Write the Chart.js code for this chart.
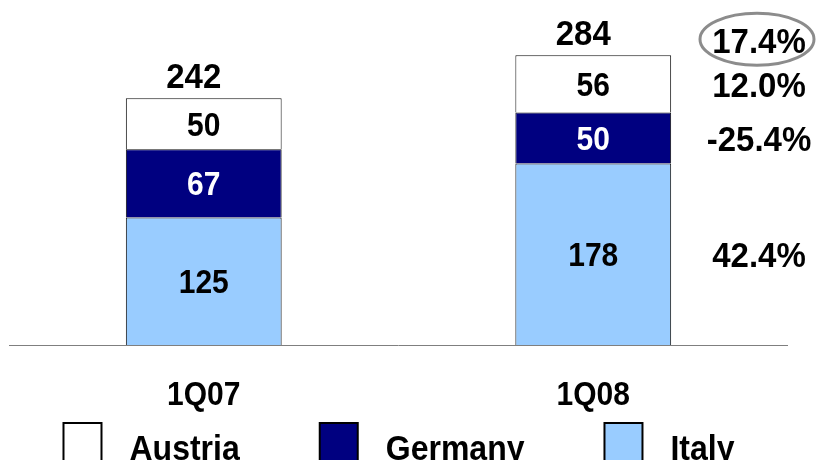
<!DOCTYPE html>
<html>
<head>
<meta charset="utf-8">
<script src="https://cdn.jsdelivr.net/npm/chart.js@4/dist/chart.umd.min.js"></script>
<style>
  html, body { margin: 0; padding: 0; background: #ffffff; }
  canvas { display: block; }
</style>
</head>
<body>
<canvas id="chart" width="817" height="460"></canvas>
<script>
// Quarterly figures by country (stacked: Italy at the bottom, Austria on top)
const categories = ['1Q07', '1Q08'];
const seriesNames = ['Italy', 'Germany', 'Austria'];
const italy = [125, 178];
const germany = [67, 50];
const austria = [50, 56];
// Year-on-year change per country (same order as seriesNames) and for the total
const growth = ['42.4%', '-25.4%', '12.0%'];
const totalGrowth = '17.4%';

const FONT = '"Liberation Sans", Arial, Helvetica, sans-serif';
const fills = ['#99CCFF', '#000080', '#FFFFFF'];
const labelInk = ['#000000', '#FFFFFF', '#000000'];
const STRETCH = 1.08; // slightly tall lettering

// text with its centre at (x, y), drawn a little taller than wide
function tallText(ctx, str, x, y) {
  ctx.save();
  ctx.translate(x, y);
  ctx.scale(1, STRETCH);
  ctx.fillText(str, 0, 0);
  ctx.restore();
}

const annotate = {
  id: 'annotate',
  afterDatasetsDraw(chart) {
    const ctx = chart.ctx;
    const area = chart.chartArea;
    const x = chart.scales.x;
    const y = chart.scales.y;
    ctx.save();

    // baseline
    ctx.strokeStyle = '#7f7f7f';
    ctx.lineWidth = 1;
    ctx.beginPath();
    ctx.moveTo(area.left, Math.round(area.bottom) + 0.5);
    ctx.lineTo(area.right, Math.round(area.bottom) + 0.5);
    ctx.stroke();

    ctx.textAlign = 'center';
    ctx.textBaseline = 'middle';

    // values inside each segment
    ctx.font = 'bold 30px ' + FONT;
    chart.data.datasets.forEach((ds, di) => {
      chart.getDatasetMeta(di).data.forEach((bar, i) => {
        const mid = (bar.y + bar.base) / 2;
        ctx.fillStyle = labelInk[di];
        tallText(ctx, String(ds.data[i]), bar.x, mid + 3);
      });
    });

    // totals above each column
    ctx.font = 'bold 33px ' + FONT;
    ctx.fillStyle = '#000000';
    categories.forEach((c, i) => {
      const total = chart.data.datasets.reduce((s, ds) => s + ds.data[i], 0);
      tallText(ctx, String(total), x.getPixelForValue(i) - 10, y.getPixelForValue(total) - 20);
    });

    // year-on-year changes to the right of the last column
    const last = categories.length - 1;
    const pctX = 759;
    ctx.font = 'bold 33px ' + FONT;
    chart.data.datasets.forEach((ds, di) => {
      const bar = chart.getDatasetMeta(di).data[last];
      tallText(ctx, growth[di], pctX, (bar.y + bar.base) / 2 + 3);
    });
    const lastTotal = chart.data.datasets.reduce((s, ds) => s + ds.data[last], 0);
    const tgY = y.getPixelForValue(lastTotal) - 12;
    tallText(ctx, totalGrowth, pctX, tgY);
    ctx.strokeStyle = '#8c8c8c';
    ctx.lineWidth = 3;
    ctx.beginPath();
    ctx.ellipse(pctX - 2, tgY - 4, 57, 26, 0, 0, Math.PI * 2);
    ctx.stroke();

    // category labels
    ctx.font = 'bold 30px ' + FONT;
    categories.forEach((c, i) => {
      tallText(ctx, c, x.getPixelForValue(i), area.bottom + 51);
    });

    // legend (Austria, Germany, Italy)
    ctx.font = 'bold 32px ' + FONT;
    const order = [2, 1, 0];
    const box = 38, gap = 28, pad = 80;
    const widths = order.map(di => ctx.measureText(seriesNames[di]).width);
    const full = widths.reduce((s, w) => s + box + gap + w, 0) + pad * (order.length - 1);
    let lx = 399 - full / 2;
    const boxTop = 423;
    ctx.textAlign = 'left';
    ctx.textBaseline = 'alphabetic';
    order.forEach((di, k) => {
      ctx.fillStyle = fills[di];
      ctx.fillRect(lx, boxTop, box, box);
      ctx.strokeStyle = '#000000';
      ctx.lineWidth = 2;
      ctx.strokeRect(lx, boxTop, box, box);
      ctx.fillStyle = '#000000';
      ctx.save();
      ctx.translate(lx + box + gap, 460);
      ctx.scale(1, STRETCH);
      ctx.fillText(seriesNames[di], 0, 0);
      ctx.restore();
      lx += box + gap + widths[k] + pad;
    });

    ctx.restore();
  }
};

const seriesData = [italy, germany, austria];

new Chart(document.getElementById('chart'), {
  type: 'bar',
  data: {
    labels: categories,
    datasets: seriesNames.map((name, di) => ({
      label: name,
      data: seriesData[di],
      backgroundColor: fills[di],
      borderColor: '#111111',
      borderWidth: 1,
      borderSkipped: 'start',
      barPercentage: 0.4,
      categoryPercentage: 1.0
    }))
  },
  options: {
    responsive: false,
    animation: false,
    layout: { padding: { left: 9, right: 29, top: 39, bottom: 115 } },
    scales: {
      x: { stacked: true, display: false },
      y: { stacked: true, display: false, min: 0, max: 300 }
    },
    plugins: {
      legend: { display: false },
      tooltip: { enabled: false }
    }
  },
  plugins: [annotate]
});
</script>
</body>
</html>
